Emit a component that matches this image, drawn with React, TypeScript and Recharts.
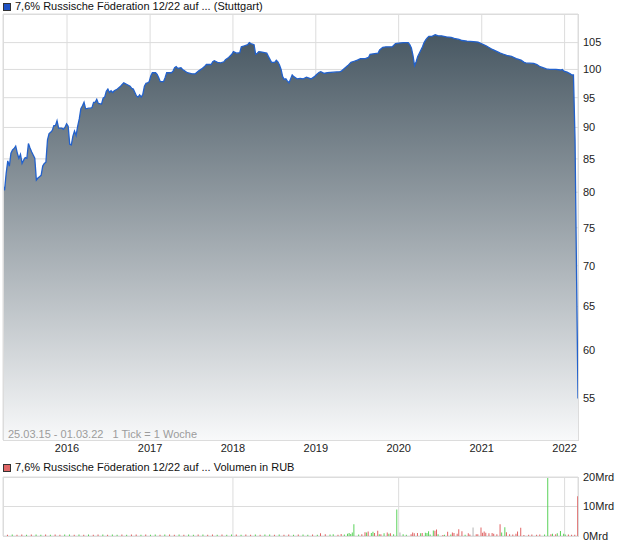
import React from 'react'
import { AreaChart, Area, BarChart, Bar, Cell, XAxis, YAxis, CartesianGrid } from 'recharts'

// weeks counted from 25.03.15 (1 Tick = 1 Woche), last point = 01.03.22
const weeks = [
  0, 1, 2, 3, 4, 5, 6, 7, 8, 9, 10, 11, 12, 13, 14, 15, 16, 17, 18, 19, 20, 21, 22, 23, 24, 25, 26, 27, 28, 29, 30, 31, 32, 33, 34, 35,
  37, 38, 39, 40, 41, 42, 43, 44, 45, 46, 47, 48, 49, 50, 51, 52,
  54, 55, 56, 57, 58, 59, 60,
  62, 63, 64, 65, 66, 67, 68, 69, 70,
  72, 74, 76, 78, 80,
  81, 82, 83, 84, 85, 86, 87, 88, 89, 90, 91, 92, 93, 94,
  96, 97, 98, 99,
  101, 102, 103,
  106, 107, 108, 109, 110,
  112, 113, 114,
  116, 119, 121, 123, 125, 127, 128,
  131, 132, 133, 135, 137, 139, 140, 142, 144, 145, 147, 149, 150, 152, 154, 155, 156, 158, 159, 160, 161, 163,
  166, 167, 169, 171, 172, 173, 174, 175, 176, 177, 178, 179, 180, 181, 182, 183,
  185, 187, 189, 191, 193, 194, 196, 197, 199, 200, 202, 204, 208, 212, 213, 215, 217, 219, 221, 223, 225, 228, 230, 231,
  236, 237, 239, 241, 245, 247, 249, 252, 255, 256, 257, 258, 259, 260, 261, 262, 263, 264, 265, 266, 267, 268, 270, 272,
  274, 276, 279, 282, 284, 287, 289, 292, 296, 299,
  304, 308, 313, 315, 317, 320, 323, 326, 328, 329, 334, 336, 338, 342, 344, 348, 351, 352, 353, 355, 357, 358, 359, 360,
  361, 361.86,
]

const prices = [
  81.0, 80.3, 82.8, 84.7, 83.9, 85.9, 86.4, 86.6, 87.0, 85.9, 85.1, 85.7, 84.3, 84.8, 85.2, 85.1, 87.4, 86.7, 86.1, 85.6,
  85.1, 81.8, 82.1, 82.3, 82.5, 83.9, 84.3, 84.5, 88.0, 89.0, 89.2, 89.5, 90.3, 90.3, 91.1, 89.9,
  89.9, 89.7, 90.0, 90.6, 90.2, 87.3, 87.2, 88.6, 89.4, 88.7, 90.2, 91.4, 93.1, 93.6, 94.2, 93.1,
  93.2, 93.2, 93.3, 94.2, 94.2, 94.7, 94.0,
  93.9, 94.9, 95.1, 96.1, 96.5, 95.9, 96.2, 95.9, 96.2,
  96.5, 97.0, 97.6, 97.3, 97.0,
  96.6, 96.5, 95.9, 95.3, 95.1, 95.5, 95.1, 95.6, 97.0, 97.5, 97.6, 97.8, 98.8, 99.4,
  99.4, 99.1, 98.5, 97.8,
  97.8, 98.5, 99.4,
  99.4, 99.7, 100.3, 100.5, 100.2,
  100.3, 100.0, 99.8,
  99.4, 99.2, 99.2, 99.7, 100.1, 100.6, 100.9,
  100.9, 101.4, 101.6, 101.3, 101.2, 101.4, 101.8, 102.2, 102.8, 103.3, 103.0, 103.1, 104.2, 104.4, 104.6, 105.0, 104.8,
  104.6, 102.8, 103.0, 103.3, 103.2,
  103.0, 102.4, 101.3, 101.3, 101.7, 101.4, 100.8, 100.0, 98.7, 98.2, 98.3, 97.9, 97.6, 98.3, 99.0, 98.7,
  98.3, 98.4, 98.3, 98.6, 98.4, 98.3, 98.7, 99.0, 99.5, 99.6, 99.3, 99.4, 99.5, 99.6, 99.7, 100.2, 100.7, 101.3, 101.5,
  101.7, 102.0, 102.0, 102.2, 102.8,
  103.0, 103.6, 104.1, 104.2, 104.2, 104.8, 104.9, 105.0, 105.0, 104.6, 104.0, 102.6, 100.7, 101.4, 102.4, 103.0, 103.6,
  104.2, 105.0, 105.5, 105.9, 106.2, 106.2, 106.5, 106.3, 106.3, 106.1, 106.0, 105.8, 105.6, 105.4, 105.3, 105.2, 105.1,
  104.4, 103.7, 103.0, 102.8, 102.6, 102.4, 102.0, 101.7, 101.3, 101.2, 101.1, 100.9, 100.5, 100.1, 100.0, 100.0, 99.9,
  100.0, 99.7, 99.5, 99.2, 99.0, 99.0, 88.0, 68.0, 55.0,
]

// volume in Mrd RUB; dir: u = up week (green), d = down week (red), n = unchanged (grey)
const volWeeks = [
  0, 3, 6, 9, 12, 15, 18, 21, 24, 27, 30, 33, 36, 39, 42, 45, 48, 51, 54, 57, 60, 63, 66, 69, 72, 75, 78, 81, 84, 87, 90,
  93, 96, 99, 102, 105, 108, 111, 114, 117, 120, 123, 126, 129, 132, 135, 138, 141, 144, 147, 150, 153, 156, 159, 162,
  165, 168, 171, 174, 177, 180, 183, 186, 189, 192, 195, 198,
  200, 203, 206, 208, 211, 213, 215, 217, 218, 219, 220, 221, 224, 226, 228, 229, 230, 232, 233, 234, 236, 237, 238, 240,
  242, 243, 244, 246, 248, 250, 252, 254, 257, 258, 259, 261, 263, 264, 266, 267, 268, 269, 271, 272, 273, 274, 277, 278,
  280, 282, 283, 284, 286, 287, 289, 291, 293, 294, 296, 298, 299, 301, 302, 303, 304, 306, 308, 309, 311, 313, 314, 316,
  317, 319, 321, 323, 324, 326, 328, 331, 333, 336, 338, 341, 343, 345, 346, 348, 349, 351, 353, 354, 356, 358, 360, 361.86,
]

const volValues = [
  0.5, 0.4, 0.5, 0.4, 0.5, 0.4, 0.5, 0.5, 0.4, 0.5, 0.4, 0.5, 0.4, 0.5, 0.5, 0.4, 0.5, 0.4, 0.5, 0.4, 0.5, 0.5, 0.4, 0.5,
  0.4, 0.5, 0.4, 0.5, 0.5, 0.4, 0.5, 0.4, 0.5, 0.4, 0.5, 0.5, 0.4, 0.5, 0.4, 0.5, 0.4, 0.5, 0.5, 0.4, 0.5, 0.4, 0.5, 0.4,
  0.5, 0.5, 0.4, 0.5, 0.4, 0.5, 0.4, 0.5, 0.5, 0.4, 0.5, 0.4, 0.5, 0.4, 0.5, 0.5, 0.4, 0.5, 0.4,
  0.9, 0.6, 0.5, 0.6, 0.4, 0.7, 0.5, 0.8, 1.0, 0.7, 1.2, 4.0, 0.5, 0.6, 1.3, 1.2, 1.5, 1.0, 1.4, 1.0, 1.8, 0.6, 0.6, 0.9,
  1.2, 0.8, 0.9, 0.6, 9.0, 1.2, 0.6, 0.4, 0.6, 1.2, 0.9, 1.0, 0.9, 1.0, 1.1, 1.0, 1.6, 0.5, 1.9, 1.8, 2.2, 0.6, 0.3, 0.4,
  1.4, 0.5, 1.2, 1.0, 0.8, 2.3, 1.6, 0.4, 0.9, 0.5, 2.9, 0.6, 0.6, 2.9, 1.1, 1.5, 1.1, 0.9, 1.0, 0.8, 0.6, 4.0, 1.2, 3.0,
  1.3, 0.6, 0.5, 0.8, 1.5, 2.8, 0.3, 0.4, 0.5, 0.4, 0.5, 0.5, 20.0, 0.6, 0.8, 0.6, 0.9, 1.7, 0.8, 0.5, 0.5, 0.4, 0.4, 13.5,
]

const volDir = [
  'u', 'd', 'u', 'd', 'd', 'u', 'd', 'u', 'u', 'd', 'u', 'd', 'd', 'u', 'u', 'd', 'u', 'd', 'u', 'd', 'd', 'u', 'd', 'u',
  'u', 'd', 'u', 'd', 'd', 'u', 'd', 'u', 'u', 'd', 'u', 'd', 'd', 'u', 'd', 'u', 'u', 'd', 'u', 'd', 'd', 'u', 'd', 'u',
  'u', 'd', 'u', 'd', 'd', 'u', 'd', 'u', 'u', 'd', 'u', 'd', 'd', 'u', 'd', 'u', 'u', 'd', 'u',
  'd', 'd', 'u', 'u', 'd', 'd', 'u', 'u', 'u', 'u', 'u', 'u', 'u', 'd', 'd', 'u', 'd', 'u', 'u', 'd', 'd', 'u', 'd', 'u',
  'd', 'u', 'd', 'u', 'u', 'n', 'u', 'u', 'd', 'd', 'd', 'd', 'u', 'd', 'u', 'u', 'u', 'u', 'u', 'd', 'd', 'u', 'd', 'u',
  'd', 'u', 'd', 'd', 'd', 'd', 'd', 'u', 'd', 'd', 'n', 'd', 'd', 'd', 'd', 'd', 'd', 'd', 'd', 'd', 'd', 'd', 'u', 'u',
  'd', 'd', 'd', 'd', 'd', 'd', 'd', 'd', 'd', 'd', 'd', 'u', 'u', 'd', 'u', 'd', 'u', 'u', 'u', 'u', 'd', 'd', 'd', 'd',
]

const years = [2016, 2017, 2018, 2019, 2020, 2021, 2022]
const priceTicks = [55, 60, 65, 70, 75, 80, 85, 90, 95, 100, 105]
const volTicks = [0, 10, 20]

const startMs = Date.UTC(2015, 2, 25)
const weekMs = 7 * 24 * 3600 * 1000
const yearTicks = years.map((y) => (Date.UTC(y, 0, 1) - startMs) / weekMs)
const lastWeek = weeks[weeks.length - 1]

const priceData = weeks.map((w, i) => ({ w, p: prices[i] }))
const volData = volWeeks.map((w, i) => ({ w, v: volValues[i], d: volDir[i] }))

const dirColor: Record<string, string> = { u: '#5ad25a', d: '#e06464', n: '#b4b4b4' }
const gridColor = '#dcdcdc'
const font = '"Liberation Sans", Arial, sans-serif'

const legendBox = (color: string, top: number): React.CSSProperties => ({
  position: 'absolute',
  left: 3,
  top,
  width: 6,
  height: 6,
  background: color,
  border: '1px solid #333',
})

const textStyle = (top: number): React.CSSProperties => ({
  position: 'absolute',
  left: 15,
  top,
  fontSize: 11,
  lineHeight: '13px',
  color: '#111',
  whiteSpace: 'pre',
})

export default function App() {
  return (
    <div style={{ position: 'absolute', left: 0, top: 0, width: 620, height: 546, background: '#fff', fontFamily: font }}>
      <div style={legendBox('#1f52c4', 3)} />
      <div style={textStyle(0)}>7,6% Russische Föderation 12/22 auf ... (Stuttgart)</div>

      <AreaChart width={620} height={460} data={priceData} margin={{ top: 14, right: 0, bottom: 0, left: 3 }}>
        <defs>
          <linearGradient id="priceFill" gradientUnits="userSpaceOnUse" x1="0" y1="30" x2="0" y2="440">
            <stop offset="0%" stopColor="#465661" />
            <stop offset="100%" stopColor="#f8f9fa" />
          </linearGradient>
        </defs>
        <CartesianGrid stroke={gridColor} />
        <XAxis
          dataKey="w"
          type="number"
          domain={[0, lastWeek]}
          ticks={yearTicks}
          tickFormatter={(_v, i) => String(years[i])}
          allowDataOverflow
          height={20}
          tickLine={false}
          axisLine={false}
          tickSize={2}
          tickMargin={2}
          tick={{ fill: '#222', fontSize: 11 }}
        />
        <YAxis
          orientation="right"
          type="number"
          scale="log"
          domain={[51, 110.6]}
          ticks={priceTicks}
          allowDataOverflow
          width={42}
          tickLine={false}
          axisLine={false}
          tickSize={3}
          tickMargin={2}
          tick={{ fill: '#222', fontSize: 11 }}
        />
        <Area
          dataKey="p"
          type="linear"
          stroke="#2261cc"
          strokeWidth={1.3}
          fill="url(#priceFill)"
          fillOpacity={1}
          baseValue="dataMin"
          dot={false}
          activeDot={false}
          isAnimationActive={false}
        />
      </AreaChart>
      <div style={{ position: 'absolute', left: 3, top: 14, width: 576, height: 427, border: `1px solid ${gridColor}`, boxSizing: 'border-box', pointerEvents: 'none' }} />
      <div style={{ position: 'absolute', left: 8, top: 428, fontSize: 11, lineHeight: '13px', color: '#9c9c9c', whiteSpace: 'pre' }}>
        {'25.03.15 - 01.03.22   1 Tick = 1 Woche'}
      </div>

      <div style={legendBox('#e06666', 464)} />
      <div style={textStyle(461)}>7,6% Russische Föderation 12/22 auf ... Volumen in RUB</div>
      <div style={{ position: 'absolute', left: 0, top: 460 }}>
        <BarChart width={620} height={86} data={volData} margin={{ top: 17, right: 0, bottom: 10, left: 3 }}>
          <CartesianGrid stroke={gridColor} />
          <XAxis dataKey="w" type="number" domain={[0, lastWeek]} ticks={yearTicks} allowDataOverflow hide />
          <YAxis
            orientation="right"
            type="number"
            domain={[0, 20]}
            ticks={volTicks}
            tickFormatter={(v) => `${v}Mrd`}
            allowDataOverflow
            width={42}
            tickLine={false}
            axisLine={false}
            tickSize={3}
            tickMargin={2}
            tick={{ fill: '#222', fontSize: 11 }}
          />
          <Bar dataKey="v" barSize={1} isAnimationActive={false}>
            {volData.map((e, i) => (
              <Cell key={i} fill={dirColor[e.d]} />
            ))}
          </Bar>
        </BarChart>
        <div style={{ position: 'absolute', left: 3, top: 17, width: 576, height: 60, border: `1px solid ${gridColor}`, boxSizing: 'border-box', pointerEvents: 'none' }} />
      </div>
    </div>
  )
}
